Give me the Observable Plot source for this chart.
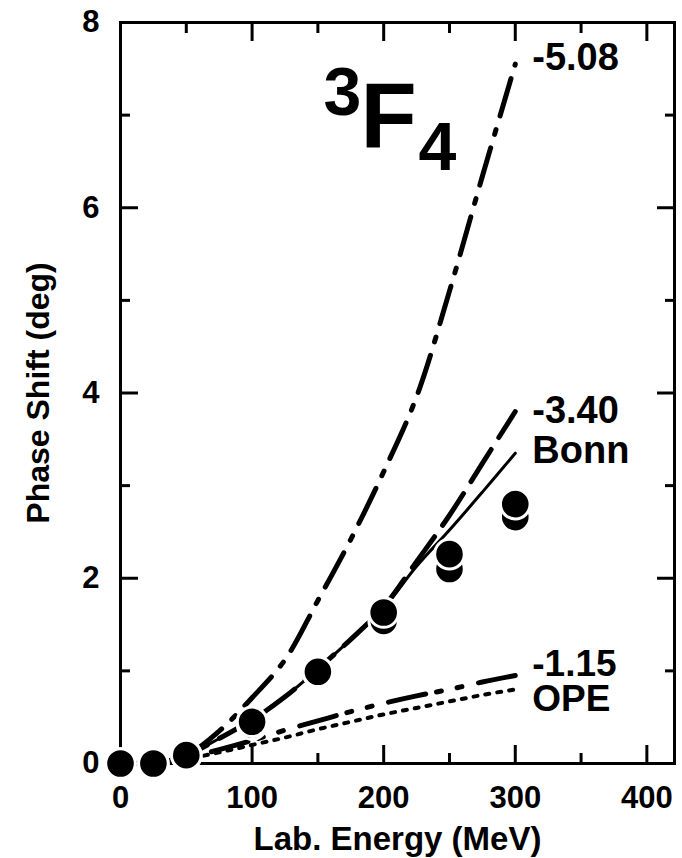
<!DOCTYPE html>
<html>
<head>
<meta charset="utf-8">
<script src="https://cdn.jsdelivr.net/npm/d3@7"></script>
<script src="https://cdn.jsdelivr.net/npm/@observablehq/plot@0.6"></script>
<style>
  html, body { margin: 0; padding: 0; background: #fff; }
  #chart svg { display: block; }
</style>
</head>
<body>
<div id="chart"></div>
<script>
// ---- Data ----
const energyGrid = [0, 25, 50, 75, 100, 125, 150, 175, 200, 225, 250, 275, 300];
const curveM508  = [0, 0.01, 0.09, 0.35, 0.71, 1.12, 1.76, 2.42, 3.15, 3.96, 5.10, 6.34, 7.55];
const curveM340  = [0, 0.01, 0.09, 0.27, 0.47, 0.72, 1.02, 1.34, 1.69, 2.18, 2.68, 3.24, 3.80];
const curveBonn  = [0, 0.01, 0.09, 0.27, 0.47, 0.72, 1.02, 1.34, 1.68, 2.13, 2.52, 2.93, 3.35];
const curveM115  = [0, 0.01, 0.06, 0.15, 0.25, 0.36, 0.46, 0.56, 0.65, 0.73, 0.80, 0.88, 0.95];
const curveOPE   = [0, 0.01, 0.05, 0.12, 0.20, 0.28, 0.37, 0.45, 0.53, 0.60, 0.67, 0.74, 0.80];

const pointEnergy = [0, 25, 50, 100, 150, 200, 250, 300];
const phaseUpper  = [0, 0.00, 0.09, 0.45, 0.99, 1.63, 2.26, 2.80];
const phaseLower  = [0, 0.00, 0.09, 0.42, 0.98, 1.54, 2.10, 2.66];

const xMajorTicks = [0, 100, 200, 300, 400];
const xMinorTicks = [50, 150, 250, 350];
const yMajorTicks = [0, 2, 4, 6, 8];
const yMinorTicks = [1, 3, 5, 7];

const curveLabels = ["-5.08", "-3.40", "Bonn", "-1.15", "OPE"];
const xTitle = "Lab. Energy (MeV)";
const yTitle = "Phase Shift (deg)";

// ---- Build tables ----
const toRows = (ys) => energyGrid.map((e, i) => ({e, v: ys[i]}));
const rowsM508 = toRows(curveM508);
const rowsM340 = toRows(curveM340);
const rowsBonn = toRows(curveBonn);
const rowsM115 = toRows(curveM115);
const rowsOPE  = toRows(curveOPE);
const ptsUpper = pointEnergy.map((e, i) => ({e, v: phaseUpper[i]}));
const ptsLower = pointEnergy.map((e, i) => ({e, v: phaseLower[i]}));
const last = (rows) => [rows[rows.length - 1]];

const FONT = "'Liberation Sans', Arial, Helvetica, sans-serif";
const LBL = {fontFamily: FONT, fontWeight: "bold", fill: "black"};

function endLabel(rows, label, dy, size = 38) {
  return Plot.text(last(rows), {
    x: "e", y: "v", text: () => label,
    textAnchor: "start", lineAnchor: "bottom",
    dx: 17, dy, fontSize: size, ...LBL
  });
}

const tickOpts = {stroke: "black", strokeWidth: 3, tickFormat: () => "", label: null};
const intFmt = (d) => String(d);

const chart = Plot.plot({
  width: 682,
  height: 858,
  marginLeft: 120,
  marginRight: 8,
  marginTop: 22,
  marginBottom: 95,
  x: {domain: [0, 421]},
  y: {domain: [0, 8]},
  style: {fontFamily: FONT, fontWeight: "bold", background: "white", color: "black"},
  marks: [
    Plot.frame({stroke: "black", strokeWidth: 3}),

    // inward ticks on all four sides
    Plot.axisX(xMajorTicks, {anchor: "bottom", tickSize: -18, ...tickOpts}),
    Plot.axisX(xMinorTicks, {anchor: "bottom", tickSize: -10, ...tickOpts}),
    Plot.axisX(xMajorTicks, {anchor: "top", tickSize: -18, ...tickOpts}),
    Plot.axisX(xMinorTicks, {anchor: "top", tickSize: -10, ...tickOpts}),
    Plot.axisY(yMajorTicks, {anchor: "left", tickSize: -18, ...tickOpts}),
    Plot.axisY(yMinorTicks, {anchor: "left", tickSize: -10, ...tickOpts}),
    Plot.axisY(yMajorTicks, {anchor: "right", tickSize: -18, ...tickOpts}),
    Plot.axisY(yMinorTicks, {anchor: "right", tickSize: -10, ...tickOpts}),

    // tick labels
    Plot.axisX(xMajorTicks, {anchor: "bottom", tickSize: 0, tickPadding: 22, fontSize: 31, tickFormat: intFmt, label: null, ...LBL}),
    Plot.axisY(yMajorTicks, {anchor: "left", tickSize: 0, tickPadding: 21, fontSize: 31, tickFormat: intFmt, label: null, ...LBL}),

    // model curves
    Plot.line(rowsOPE,  {x: "e", y: "v", curve: "catmull-rom", stroke: "black", strokeWidth: 4, strokeDasharray: "4,8"}),
    Plot.line(rowsM115, {x: "e", y: "v", curve: "catmull-rom", stroke: "black", strokeWidth: 5, strokeDasharray: "38,11,5,16,5,17"}),
    Plot.line(rowsBonn, {x: "e", y: "v", curve: "catmull-rom", stroke: "black", strokeWidth: 3}),
    Plot.line(rowsM340, {x: "e", y: "v", curve: "catmull-rom", stroke: "black", strokeWidth: 5, strokeDasharray: "38,14"}),
    Plot.line(rowsM508, {x: "e", y: "v", curve: "catmull-rom", stroke: "black", strokeWidth: 5, strokeDasharray: "39,14,5,14"}),

    // phase-shift analysis points
    Plot.dot(ptsLower, {x: "e", y: "v", r: 14.8, fill: "black", stroke: "white", strokeWidth: 3}),
    Plot.dot(ptsUpper, {x: "e", y: "v", r: 14.8, fill: "black", stroke: "white", strokeWidth: 3}),

    // curve end labels
    endLabel(rowsM508, curveLabels[0], 6),
    endLabel(rowsM340, curveLabels[1], 11),
    endLabel(rowsBonn, curveLabels[2], 10),
    endLabel(rowsM115, curveLabels[3], 0, 37),
    endLabel(rowsOPE,  curveLabels[4], 22, 37),

    // panel title  3F4
    Plot.text(["3"], {frameAnchor: "top-left", text: d => d, textAnchor: "start", lineAnchor: "top", dx: 203, dy: 44, fontSize: 68, ...LBL}),
    Plot.text(["F"], {frameAnchor: "top-left", text: d => d, textAnchor: "start", lineAnchor: "top", dx: 240, dy: 59, fontSize: 92, ...LBL}),
    Plot.text(["4"], {frameAnchor: "top-left", text: d => d, textAnchor: "start", lineAnchor: "top", dx: 298, dy: 99, fontSize: 68, ...LBL}),

    // axis titles
    Plot.text([xTitle], {frameAnchor: "bottom", text: d => d, textAnchor: "middle", lineAnchor: "bottom", dy: 86, fontSize: 33, ...LBL}),
    Plot.text([yTitle], {frameAnchor: "left", text: d => d, textAnchor: "middle", rotate: -90, lineAnchor: "middle", dx: -82, fontSize: 32, ...LBL})
  ]
});

document.getElementById("chart").appendChild(chart);
</script>
</body>
</html>
